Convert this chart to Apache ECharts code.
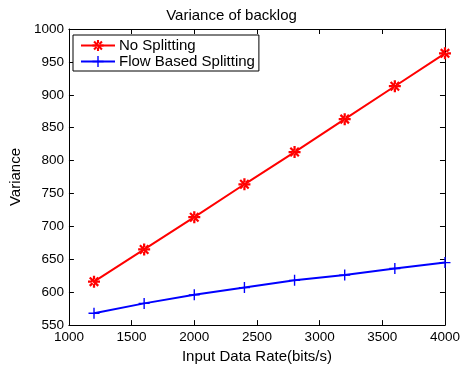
<!DOCTYPE html>
<html>
<head>
<meta charset="utf-8">
<script src="https://cdn.jsdelivr.net/npm/echarts@6/dist/echarts.min.js"></script>
<style>
  html, body { margin: 0; padding: 0; background: #fff; }
  #chart { width: 463px; height: 369px; }
</style>
</head>
<body>
<div id="chart"></div>
<script>
'use strict';

var rates = [1200, 1600, 2000, 2400, 2800, 3200, 3600, 4000];
var noSplitting = [616, 665, 714, 764, 813, 863, 913, 963];
var flowSplitting = [568, 583, 596, 607, 618, 626, 636, 645];

var font = 'Liberation Sans, Arial, sans-serif';

// marker shapes, matlab style
var starPath = 'path://M-8,-1.5H8V1.5H-8Z M-1.5,-8H1.5V8H-1.5Z ' +
  'M4.6,6.7L-6.7,-4.6L-4.6,-6.7L6.7,4.6Z ' +
  'M-4.6,6.7L6.7,-4.6L4.6,-6.7L-6.7,4.6Z';
var plusPath = 'path://M-1,-8H1V-1H8V1H1V8H-1V1H-8V-1H-1Z';

var pairs = function(xs, ys) {
  return xs.map(function(x, i) { return [x, ys[i]]; });
};

var boxAxis = function(pos, isX) {
  return {
    type: 'value',
    position: pos,
    min: isX ? 1000 : 550,
    max: isX ? 4000 : 1000,
    interval: isX ? 500 : 50,
    axisLine: { show: true, lineStyle: { color: '#000', width: 1 } },
    axisTick: { show: true, inside: true, length: 5, lineStyle: { color: '#000' } },
    axisLabel: { show: false },
    splitLine: { show: false }
  };
};

var plain = function(v) { return String(v); };

var chart = echarts.init(document.getElementById('chart'));

var xMain = boxAxis('bottom', true);
xMain.axisLabel = { show: true, color: '#000', fontFamily: font, fontSize: 13.5, margin: 5, formatter: plain };
xMain.name = 'Input Data Rate(bits/s)';
xMain.nameLocation = 'middle';
xMain.nameGap = 22;
xMain.nameTextStyle = { color: '#000', fontFamily: font, fontSize: 15 };

var yMain = boxAxis('left', false);
yMain.axisLabel = { show: true, color: '#000', fontFamily: font, fontSize: 13.5, margin: 5, formatter: plain };
yMain.name = 'Variance';
yMain.nameLocation = 'middle';
yMain.nameGap = 43;
yMain.nameTextStyle = { color: '#000', fontFamily: font, fontSize: 15 };

chart.setOption({
  animation: false,
  backgroundColor: '#fff',
  title: {
    text: 'Variance of backlog',
    left: 'center',
    top: 3,
    textStyle: { color: '#000', fontFamily: font, fontSize: 15, fontWeight: 'normal' }
  },
  grid: { left: 68, right: 14, top: 29, bottom: 39, containLabel: false },
  legend: {
    orient: 'vertical',
    left: 73,
    top: 35,
    padding: [3, 4, 2, 7],
    itemGap: 1,
    itemWidth: 34,
    itemHeight: 14,
    backgroundColor: '#fff',
    borderColor: '#000',
    borderWidth: 1,
    borderRadius: 0,
    textStyle: { color: '#000', fontFamily: font, fontSize: 15, padding: [0, 0, 0, -1] },
    data: ['No Splitting', 'Flow Based Splitting']
  },
  xAxis: [xMain, boxAxis('top', true)],
  yAxis: [yMain, boxAxis('right', false)],
  series: [
    {
      name: 'No Splitting',
      type: 'line',
      data: pairs(rates, noSplitting),
      symbol: starPath,
      symbolSize: 12,
      color: '#ff0000',
      lineStyle: { color: '#ff0000', width: 2 },
      itemStyle: { color: '#ff0000' }
    },
    {
      name: 'Flow Based Splitting',
      type: 'line',
      data: pairs(rates, flowSplitting),
      symbol: plusPath,
      symbolSize: 11,
      color: '#0000ff',
      lineStyle: { color: '#0000ff', width: 2 },
      itemStyle: { color: '#0000ff' }
    }
  ]
});
</script>
</body>
</html>
